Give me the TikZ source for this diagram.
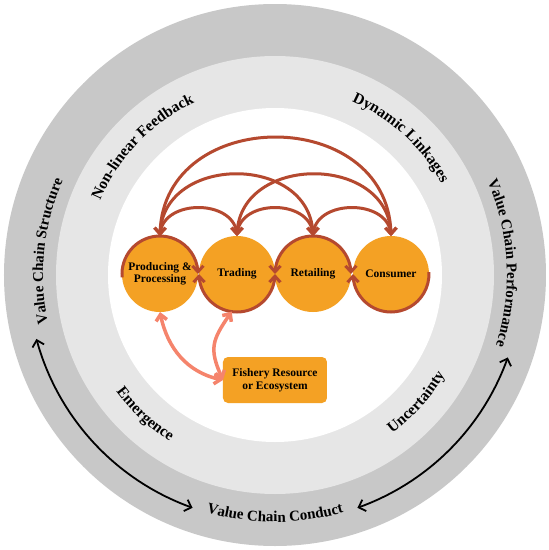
\documentclass[tikz,border=0pt]{standalone}
\usepackage{fontspec}
\setmainfont{Liberation Serif}
\usetikzlibrary{arrows.meta,decorations.text,bending}
\definecolor{ringout}{HTML}{C8C8C8}
\definecolor{ringmid}{HTML}{E6E6E6}
\definecolor{orng}{HTML}{F4A124}
\definecolor{brn}{HTML}{B5492F}
\definecolor{salm}{HTML}{F5846C}
\newcommand\ringtxt[5]{\path[decorate,decoration={text along path,text align=center,text={|\fontsize{#5}{#5}\selectfont\bfseries|#4}}] (#2:#1pt) arc[start angle=#2,end angle=#3,radius=#1pt];}
\begin{document}
\begin{tikzpicture}[x=1pt,y=1pt,
  stage/.style={circle,fill=orng,minimum size=76pt,inner sep=0pt,outer sep=0pt,font=\bfseries\fontsize{11.5}{12.5}\selectfont,align=center},
  fishbox/.style={rectangle,rounded corners=5pt,fill=orng,minimum width=104pt,minimum height=46pt,inner sep=0pt,outer sep=0pt,font=\bfseries\fontsize{11.5}{12.5}\selectfont,align=center},
  brownline/.style={draw=brn,line width=3pt},
  btip/.tip={Straight Barb[length=6pt,width=11pt]},
  brownarr/.style={brownline,btip-btip},
  salmarr/.style={draw=salm,line width=3.5pt,{Straight Barb[length=6pt,width=11pt]}-{Straight Barb[length=6pt,width=11pt]}},
  blackarr/.style={draw=black,line width=1.8pt,{Straight Barb[length=6pt,width=12pt]}-{Straight Barb[length=6pt,width=12pt]}}
]
\useasboundingbox[fill=white] (-275,-275) rectangle (274,275);
\fill[ringout] (0,0) circle[radius=271pt];
\fill[ringmid] (0,0) circle[radius=219pt];
\fill[white] (0,0) circle[radius=167pt];

% ring texts
\ringtxt{232}{214}{134}{Value Chain Structure}{15}
\ringtxt{232}{43}{-37}{Value Chain Performance}{15}
\ringtxt{247}{230}{310}{Value Chain Conduct}{15}
\ringtxt{190}{176}{96}{Non-linear Feedback}{15.5}
\ringtxt{190}{87}{8}{Dynamic Linkages}{15.5}
\ringtxt{197}{197}{257}{Emergence}{15.5}
\ringtxt{197}{288}{348}{Uncertainty}{15.5}

% outer arrows
\draw[blackarr] (195:247pt) arc[start angle=195,end angle=250.5,radius=247pt];
\draw[blackarr] (289.5:247pt) arc[start angle=289.5,end angle=340.5,radius=247pt];

% stages
\node[stage] (P) at (-115,1) {Producing \&\\Processing};
\node[stage] (T) at (-38,1) {Trading};
\node[stage] (R) at (38,1) {Retailing};
\node[stage] (C) at (116,1) {Consumer};
\node[fishbox] (F) at (0,-105) {Fishery Resource\\or Ecosystem};

% wave arcs on circles
\draw[brownline,-btip] (P.185) arc[start angle=185,end angle=0,radius=38pt];
\draw[brownarr] (T.180) arc[start angle=180,end angle=360,radius=38pt];
\draw[brownarr] (R.180) arc[start angle=180,end angle=0,radius=38pt];
\draw[brownline,btip-] (C.180) arc[start angle=180,end angle=363,radius=38pt];

% linkage arcs
\draw[brownarr] (P.north) .. controls +(0,132) and +(0,132) .. (C.north);
\draw[brownarr] (P.north) .. controls +(0,83) and +(0,83) .. (R.north);
\draw[brownarr] (T.north) .. controls +(0,83) and +(0,83) .. (C.north);
\draw[brownarr] (P.north) .. controls +(0,38) and +(0,38) .. (T.north);
\draw[brownarr] (T.north) .. controls +(0,38) and +(0,38) .. (R.north);
\draw[brownarr] (R.north) .. controls +(0,38) and +(0,38) .. (C.north);

% resource arrows
\draw[salmarr] (P.south) to[out=-80,in=170] (F.west);
\draw[salmarr] (T.262) to[out=235,in=115,looseness=1.3] (F.west);
\end{tikzpicture}
\end{document}
